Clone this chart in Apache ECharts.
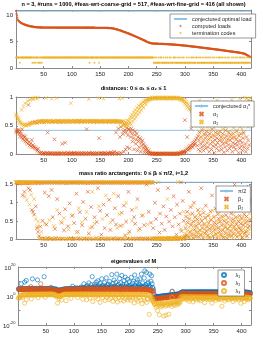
<!DOCTYPE html>
<html><head><meta charset="utf-8">
<script src="https://cdn.jsdelivr.net/npm/echarts@6/dist/echarts.min.js"></script>
<style>html,body{margin:0;padding:0;background:#fff}#c{width:273px;height:345px}</style>
</head><body><div id="c"></div>
<script>
// ---------- data (index 1..416) ----------
const xTicks = [50,100,150,200,250,300,350,400];
const conjLoad = 10.77;
const conjAlpha1 = 0.42;
const halfPi = 1.5708;

const loads = [
10.8,10.2,9.6,9.2,9.0,8.9,8.8,8.7,8.62,8.55,8.49,8.43,8.38,8.33,8.28,8.24,8.2,8.16,8.12,8.09,
8.06,8.03,8.0,7.97,7.94,7.92,7.9,7.88,7.86,7.84,7.82,7.8,7.78,7.76,7.75,7.74,7.73,7.72,7.71,7.7,
7.7,7.69,7.69,7.68,7.68,7.68,7.67,7.67,7.67,7.67,7.66,7.66,7.66,7.66,7.66,7.66,7.66,7.66,7.66,7.66,
7.66,7.66,7.66,7.66,7.66,7.66,7.66,7.66,7.66,7.66,7.65,7.65,7.65,7.65,7.65,7.65,7.65,7.65,7.65,7.65,
7.65,7.65,7.65,7.65,7.65,7.65,7.65,7.65,7.65,7.65,7.65,7.65,7.65,7.65,7.65,7.65,7.65,7.65,7.65,7.65,
7.64,7.64,7.64,7.64,7.64,7.64,7.64,7.64,7.64,7.64,7.64,7.64,7.64,7.64,7.64,7.64,7.64,7.64,7.64,7.64,
7.63,7.63,7.63,7.63,7.63,7.63,7.63,7.63,7.63,7.63,7.63,7.63,7.63,7.63,7.63,7.63,7.63,7.63,7.63,7.63,
7.62,7.62,7.62,7.62,7.62,7.62,7.62,7.62,7.62,7.62,7.61,7.61,7.61,7.61,7.61,7.61,7.61,7.61,7.61,7.61,
7.6,7.6,7.59,7.59,7.58,7.58,7.57,7.56,7.55,7.54,7.53,7.51,7.49,7.47,7.45,7.42,7.39,7.36,7.33,7.3,
7.27,7.24,7.2,7.17,7.13,7.1,7.06,7.02,6.98,6.94,6.9,6.86,6.82,6.78,6.74,6.7,6.66,6.62,6.58,6.54,
6.5,6.46,6.41,6.37,6.32,6.28,6.23,6.19,6.14,6.1,6.05,6.0,5.96,5.91,5.86,5.81,5.77,5.72,5.67,5.62,
5.57,5.52,5.47,5.42,5.37,5.32,5.27,5.22,5.17,5.12,5.07,5.02,4.97,4.92,4.87,4.83,4.79,4.75,4.72,4.69,
4.67,4.66,4.65,4.64,4.63,4.63,4.62,4.62,4.61,4.61,4.6,4.6,4.59,4.59,4.58,4.58,4.57,4.57,4.56,4.56,
4.55,4.55,4.54,4.54,4.53,4.53,4.52,4.52,4.51,4.5,4.49,4.49,4.48,4.48,4.47,4.47,4.46,4.46,4.45,4.44,
4.43,4.42,4.41,4.4,4.39,4.38,4.37,4.36,4.35,4.34,4.33,4.32,4.31,4.3,4.29,4.28,4.27,4.26,4.25,4.24,
4.23,4.22,4.2,4.19,4.18,4.17,4.15,4.14,4.13,4.12,4.1,4.09,4.08,4.07,4.05,4.04,4.03,4.02,4.0,3.99,
3.98,3.96,3.95,3.94,3.92,3.91,3.9,3.88,3.87,3.86,3.84,3.83,3.82,3.8,3.79,3.78,3.76,3.75,3.74,3.72,
3.71,3.7,3.68,3.67,3.66,3.64,3.63,3.62,3.6,3.59,3.58,3.56,3.55,3.53,3.52,3.51,3.49,3.48,3.46,3.45,
3.44,3.42,3.41,3.39,3.38,3.36,3.35,3.33,3.32,3.3,3.29,3.27,3.26,3.24,3.23,3.21,3.2,3.18,3.17,3.15,
3.14,3.12,3.11,3.09,3.08,3.06,3.05,3.03,3.02,3.0,2.99,2.97,2.96,2.94,2.93,2.91,2.9,2.88,2.86,2.84,
2.82,2.8,2.77,2.74,2.71,2.67,2.62,2.56,2.5,2.44,2.38,2.31,2.25,2.18,2.12,2.06];

const termCodesText =
"22222221222222222222"+"22222222212212212221"+"21212212222222222222"+"22222222222222222222"+
"22222222222222222222"+"22222222222222222222"+"22222222221222222221"+"22222221222222222222"+
"22222222222222222222"+"22222222222222222222"+"22222222222222222222"+"22222222222222222222"+
"22221121121112112211"+"12111211211121211112"+"21121112112111211211"+"11211121112121121112"+
"21112112111211121121"+"12112111211211121112"+"21121121112111211211"+"11211211121121112121"+
"1211211121121121";
const termCodes = termCodesText.split('').map(Number);

// distances, in hundredths
const alpha1Pct = [
40,42,38,41,39,43,36,31,40,35,30,44,27,33,24,29,31,22,26,20,
25,18,87,21,15,55,19,14,25,12,16,56,13,11,57,10,8,55,6,9,
4,57,2,58,1,3,57,1,0,2,56,1,0,58,1,2,38,0,1,57,
1,0,2,57,1,0,58,1,26,0,2,57,0,1,1,58,0,2,57,1,
0,1,18,57,0,2,1,20,0,58,1,0,2,57,1,0,1,58,2,0,
57,1,0,2,58,1,0,1,57,2,0,1,58,0,1,57,2,0,1,58,
0,2,57,1,0,44,1,58,0,2,1,57,0,1,58,2,0,1,57,0,
1,58,0,2,57,1,0,28,58,1,0,2,57,1,0,58,1,2,0,57,
1,0,58,2,1,57,0,1,3,58,0,2,57,1,4,58,0,38,2,57,
1,45,0,57,30,2,48,1,58,35,40,4,52,42,8,38,46,12,33,44,
44,10,40,30,45,36,22,42,28,8,34,40,18,25,36,6,30,22,12,28,
26,4,20,15,24,10,18,3,14,8,12,2,9,5,1,6,3,0,2,1,
1,0,1,0,1,0,0,1,0,1,0,0,1,0,1,0,0,1,0,1,
0,1,0,0,1,0,1,0,0,1,0,1,0,0,1,0,1,0,0,1,
0,1,0,1,0,0,1,0,1,2,1,0,3,2,1,4,2,5,3,60,
6,4,8,30,10,7,12,9,15,11,45,14,18,12,20,16,22,18,25,62,
28,15,32,8,24,38,5,18,30,12,42,22,6,35,15,28,10,40,20,33,
12,26,4,36,18,30,8,44,22,14,32,2,25,38,16,10,28,20,35,6,
24,40,14,30,8,22,36,18,3,28,12,42,20,32,6,26,16,38,10,24,
34,14,28,4,20,36,12,30,18,8,26,40,16,22,2,32,10,24,36,14,
20,6,28,38,12,56,18,4,30,58,10,24,55,16,60,58];

const alpha2Pct = [
70,68,66,64,62,60,58,56,55,54,78,53,52,84,51,52,90,50,51,53,
52,94,53,51,96,54,53,98,55,54,97,99,55,56,100,56,57,98,57,100,
57,58,58,58,57,59,58,58,58,57,58,59,58,99,57,58,58,59,57,58,
58,59,57,98,58,57,58,59,58,57,57,58,99,58,59,57,58,59,58,57,
58,59,57,58,58,57,59,58,58,57,57,59,58,58,58,57,58,90,59,58,
58,58,57,59,58,58,57,59,58,58,58,57,59,59,58,58,57,58,59,58,
58,57,58,58,59,57,58,58,58,97,59,58,58,57,58,58,59,57,58,58,
59,58,57,58,58,58,99,57,58,58,57,59,58,58,57,98,58,59,57,58,
58,59,58,57,58,58,58,59,57,58,58,57,59,58,59,58,57,58,58,59,
58,57,59,98,56,58,55,57,99,52,50,58,54,48,56,52,55,60,50,54,
58,62,55,66,52,70,64,58,74,68,62,78,72,66,82,76,70,86,80,74,
84,88,78,90,86,92,82,94,90,95,88,96,93,97,95,98,96,99,97,98,
99,98,100,99,98,100,99,100,98,99,100,99,98,100,99,100,99,98,100,99,
100,99,98,100,99,100,98,99,100,99,98,100,99,100,98,99,100,99,98,100,
99,100,98,99,100,99,98,100,99,98,97,99,96,98,95,97,93,96,90,94,
88,92,85,90,82,88,80,85,78,82,75,80,72,78,70,76,68,74,65,72,
62,85,50,70,40,95,55,30,78,60,45,88,25,68,52,92,35,74,58,48,
82,42,65,28,90,55,38,72,60,20,86,46,66,32,76,54,95,40,62,70,
36,80,50,64,26,88,44,72,58,34,92,48,68,22,78,56,40,84,62,30,
74,52,96,38,66,46,82,28,60,90,42,70,54,86,34,64,98,48,76,58,
44,88,66,36,80,100,54,72,98,62,90,48,96,58,94,99];

// mass ratio arctangents, in hundredths of a radian
const beta1Pct = [
156,155,156,154,155,156,155,153,156,155,154,156,120,155,156,130,155,154,156,155,
155,156,140,155,154,135,156,155,80,155,75,156,67,155,154,90,156,30,155,20,
155,8,156,34,154,2,155,50,156,1,155,128,0,156,40,155,2,156,118,155,
0,156,1,135,155,60,156,0,155,28,156,2,155,110,156,1,155,70,156,0,
155,45,156,1,155,24,156,82,154,0,155,156,35,1,155,98,156,2,155,64,
156,0,155,44,156,1,155,125,156,20,155,2,156,74,155,0,156,38,155,102,
156,1,155,56,156,0,155,130,154,15,156,1,155,88,156,33,155,0,156,60,
155,2,156,47,155,140,156,0,155,78,156,12,155,1,156,95,155,30,156,0,
155,66,156,1,155,108,156,25,155,0,156,52,155,2,156,85,155,40,156,0,
155,118,156,1,155,36,156,72,155,0,156,92,155,10,156,48,155,1,156,130,
155,20,156,0,155,80,156,1,155,60,156,42,155,0,156,110,155,2,156,28,
155,0,156,64,155,1,156,38,155,0,156,150,155,2,156,75,155,0,156,45,
156,1,155,30,2,0,100,1,55,0,2,135,0,1,18,70,0,2,42,0,
1,90,0,25,2,0,62,1,0,140,3,48,0,1,80,2,0,35,1,118,
0,60,2,1,12,95,0,3,40,1,70,0,156,22,2,105,0,50,1,8,
30,62,10,75,45,5,130,55,20,88,38,14,70,3,48,100,26,60,8,36,
18,54,80,6,42,24,66,12,140,50,30,2,72,40,16,58,92,22,34,10,
64,44,4,28,76,52,18,120,36,8,60,46,26,84,14,40,2,68,30,56,
20,48,106,10,38,62,24,4,50,80,32,16,66,44,2,28,58,12,95,36,
22,70,8,46,54,14,34,150,26,60,40,6,78,18,48,30,64,12,42,24,
56,4,38,126,68,16,44,20,62,8,50,30,144,36,108,52];

const beta2Pct = [
157,156,157,155,157,156,157,156,155,157,156,157,156,155,157,156,117,157,156,107,
157,155,156,157,95,156,157,122,156,155,157,156,110,157,156,55,157,156,35,48,
157,2,156,1,157,20,156,0,157,1,156,42,157,0,156,3,157,1,156,52,
157,0,156,2,157,1,156,36,157,0,156,1,157,80,156,2,157,0,156,48,
157,1,156,0,157,58,156,2,157,1,156,0,157,26,156,1,157,2,156,0,
157,66,156,1,157,0,156,18,157,2,156,85,157,0,156,1,157,46,156,2,
157,0,156,1,157,75,156,2,157,0,156,30,157,1,156,130,157,0,156,42,
157,1,156,2,157,0,156,90,157,1,156,0,157,55,156,2,157,1,156,120,
157,0,156,1,157,2,156,45,157,0,156,1,157,125,156,0,157,2,156,30,
157,1,156,68,157,0,156,2,157,38,156,1,157,0,156,100,157,2,156,15,
157,0,156,1,157,50,156,2,157,0,156,1,157,86,156,0,157,24,156,1,
157,2,156,0,157,66,156,1,157,0,156,2,157,40,156,1,157,0,156,156,
157,0,156,1,2,0,1,3,0,2,1,0,157,1,0,2,1,0,3,1,
0,2,1,0,3,1,0,2,110,1,0,4,2,0,1,3,0,2,1,0,
2,1,0,5,3,1,0,157,2,4,1,0,28,3,2,6,1,75,4,2,
14,40,6,22,58,10,32,4,68,18,44,8,26,92,12,36,2,50,20,64,
8,30,46,16,72,4,24,56,12,38,82,20,6,42,28,60,14,34,2,48,
24,10,66,36,4,54,18,28,78,8,40,22,62,12,32,50,6,44,16,70,
30,2,48,14,58,26,8,40,64,18,4,36,52,10,28,86,20,46,6,34,
12,56,24,40,2,68,32,16,50,10,44,26,60,8,36,20,54,14,30,4,
46,18,62,28,10,52,34,6,48,130,22,40,14,70,26,56];

// eigenvalues of M, as log10
const lambda1Log = [
4.8,5.2,4.5,5.0,4.6,8.4,4.9,5.3,4.7,5.1,4.6,9.6,5.0,4.8,10.7,5.2,4.5,4.9,5.4,4.7,
5.0,4.6,5.3,4.8,5.1,11.8,4.7,5.2,4.9,5.0,4.6,5.0,5.3,4.8,11.1,4.7,5.1,4.9,5.2,4.6,
5.0,4.8,5.3,4.7,5.1,4.9,13.3,5.0,4.6,5.2,4.8,4.7,5.1,4.9,4.5,5.0,4.8,5.2,6.0,4.7,
4.9,5.1,4.6,5.0,4.8,4.5,4.7,4.9,4.4,4.2,3.9,4.1,3.8,4.0,4.2,3.9,4.3,4.1,4.4,4.6,
4.5,4.8,4.6,4.9,4.7,5.0,4.6,4.8,5.1,4.7,4.9,5.2,4.8,5.0,4.6,5.3,4.9,6.7,5.1,4.8,
5.0,5.4,4.9,5.2,5.6,5.0,4.8,5.3,5.1,4.9,5.5,5.2,6.2,5.0,5.4,5.8,5.1,8.4,5.3,5.6,
5.2,6.5,5.4,7.2,5.0,5.8,9.0,5.3,6.0,5.6,7.8,5.2,13.3,5.5,6.4,5.1,8.0,5.7,6.8,9.5,
5.4,6.2,10.5,5.6,7.0,5.2,8.8,5.8,6.6,11.8,5.5,7.4,5.9,6.0,9.2,5.3,6.8,12.5,5.7,7.6,
5.6,8.2,6.1,10.0,5.4,7.0,5.9,14.7,6.3,8.6,5.5,11.0,6.7,5.8,9.4,6.0,15.1,7.2,5.6,8.0,
6.2,12.0,5.8,9.0,6.6,14.2,5.7,7.8,6.4,10.6,5.9,13.0,6.8,8.4,5.6,11.5,7.0,6.2,9.8,5.8,
7.4,6.0,12.8,5.9,8.8,6.5,10.2,5.7,14.5,7.2,6.3,9.4,5.8,11.2,6.7,8.0,6.0,11.8,7.6,6.4,
15.1,6.1,9.0,5.9,6.8,12.4,17.3,6.3,7.8,16.2,6.0,8.6,9.6,5.8,7.0,15.1,6.2,10.2,14.0,8.4,
6.0,5.0,3.5,1.0,-0.6,-0.8,-0.7,-0.5,-0.6,-0.4,-0.5,-0.3,-0.4,-0.2,-0.3,-0.1,-0.2,0.0,-0.1,0.1,
0.0,0.2,0.1,0.3,0.2,0.4,0.3,0.5,0.4,0.6,0.5,0.7,0.6,0.8,0.7,3.3,0.9,0.8,1.0,0.9,
1.1,1.0,1.2,1.1,1.3,1.2,1.4,1.3,1.5,1.4,2.3,2.5,2.6,2.7,3.0,2.6,2.8,2.7,2.6,2.8,
2.7,2.6,2.8,2.7,2.6,2.8,2.7,2.9,2.6,2.8,2.7,2.6,2.9,2.7,2.8,2.6,2.7,2.9,2.8,2.7,
2.8,2.6,2.7,2.9,2.8,2.6,2.7,2.8,3.0,2.7,2.6,2.8,2.9,2.7,2.8,2.6,2.7,2.9,2.8,2.7,
2.6,2.8,2.7,2.9,2.8,2.7,2.6,2.8,2.9,2.7,2.8,2.6,2.7,2.9,2.8,2.7,2.6,2.8,2.7,2.9,
2.8,2.7,2.6,2.8,2.9,2.7,2.8,2.6,2.7,2.9,2.8,2.7,2.6,2.8,2.7,2.9,2.8,2.6,2.7,2.8,
2.9,2.7,2.8,2.6,2.7,2.9,2.8,2.7,2.6,2.8,2.7,2.9,2.8,2.6,2.7,2.8,2.9,2.7,2.6,2.8,
2.7,2.8,2.6,2.9,2.7,2.8,2.6,2.5,2.7,2.4,2.6,2.5,2.3,2.4,2.2,2.3];

const lambda2Log = [
4.5,4.9,4.3,4.7,5.1,4.4,4.8,4.2,4.6,5.0,4.3,4.7,4.9,4.4,4.6,5.0,4.2,4.8,4.5,4.9,
4.4,4.7,6.5,4.3,4.8,4.6,4.9,4.2,4.5,4.7,4.4,4.8,4.6,4.3,4.9,4.5,4.7,4.4,4.6,4.8,
8.4,4.5,4.7,4.3,4.6,4.8,4.4,4.7,4.5,4.9,4.3,4.6,4.8,4.4,4.7,4.5,4.6,4.8,4.4,4.7,
4.5,4.3,4.6,4.4,4.2,4.0,4.3,3.9,3.6,3.4,3.2,3.5,3.1,3.4,3.6,3.3,3.8,3.7,4.0,4.2,
4.3,4.5,4.2,4.6,4.4,4.7,4.3,4.5,4.6,4.4,4.7,4.5,4.3,4.6,4.8,4.4,4.6,4.5,4.7,4.3,
4.6,4.8,4.4,4.7,4.5,4.9,4.6,4.3,4.7,4.5,4.8,4.4,4.6,5.6,4.5,4.7,4.4,4.8,4.6,4.5,
4.7,4.4,4.9,4.6,4.5,5.8,4.8,4.3,4.7,4.5,4.9,4.6,4.4,4.8,4.5,4.7,6.2,4.6,4.4,4.8,
4.5,4.7,4.9,4.4,4.6,4.8,4.5,4.3,4.7,4.6,4.9,4.4,4.8,4.5,4.7,6.5,4.6,4.4,4.8,4.5,
4.7,4.9,4.4,4.6,4.8,4.5,4.3,4.7,4.6,4.9,4.4,4.8,4.5,6.8,4.7,4.6,4.4,4.9,4.5,4.7,
4.6,4.8,4.4,4.7,4.5,4.9,4.6,4.3,4.8,4.5,6.2,4.7,4.4,4.6,4.9,4.5,4.7,4.4,4.8,4.6,
4.5,4.7,4.9,4.4,4.6,4.8,4.5,4.7,4.3,4.6,4.9,4.5,4.7,4.4,4.8,4.6,4.5,4.7,4.4,4.6,
4.8,4.5,4.7,4.3,4.6,4.4,4.8,4.5,4.2,4.6,4.3,4.1,4.4,4.0,4.2,3.9,4.1,3.8,3.6,3.9,
3.4,2.6,1.2,-0.8,-1.9,-2.1,-1.8,-2.0,-1.7,-1.9,-1.6,-1.8,-1.5,-1.7,-1.4,-1.6,-1.3,-1.5,-1.2,-1.4,
-1.1,-1.3,-1.0,-1.2,-0.9,-1.1,-0.8,-1.0,-0.7,-0.9,-0.6,-0.8,-0.5,-0.7,-0.4,3.0,-0.3,-0.5,-0.2,-0.4,
-0.1,-0.3,0.0,-0.2,0.1,-0.1,0.2,0.0,0.3,0.1,1.5,1.7,1.8,1.6,2.2,1.7,1.9,1.6,1.8,1.7,
1.8,1.6,1.9,1.7,1.5,1.8,1.6,1.9,1.7,1.8,1.6,1.5,1.9,1.7,1.8,1.6,1.7,1.9,1.5,1.8,
1.7,1.9,1.6,1.8,1.5,1.7,1.9,1.6,1.8,1.7,1.5,1.9,1.6,1.8,1.7,1.9,1.6,1.5,1.8,1.7,
1.9,1.6,1.8,1.7,1.5,1.9,1.7,1.6,1.8,1.9,1.5,1.7,1.8,1.6,1.9,1.7,1.5,1.8,1.6,1.9,
1.7,1.8,1.6,1.9,1.5,1.7,1.8,1.6,1.9,1.7,1.5,1.8,1.6,1.9,1.7,1.8,1.5,1.6,1.9,1.7,
1.8,1.6,1.9,1.7,1.5,1.8,1.6,1.9,1.7,1.8,1.6,1.5,1.9,1.7,1.8,1.6,1.9,1.7,1.5,1.8,
1.6,1.8,1.7,1.5,1.9,1.6,1.7,1.4,1.6,1.3,1.5,1.2,1.4,1.1,1.3,1.2];

const lambda3Log = [
-1.6,-1.2,-0.8,0.2,-0.5,0.6,0.3,-1.0,0.8,0.5,1.0,-4.9,0.7,1.1,-2.5,0.9,1.2,0.6,1.0,0.8,
1.1,0.7,1.3,-2.0,0.9,1.2,0.6,1.0,1.4,0.8,1.1,0.5,1.3,0.9,1.2,-1.2,1.0,1.4,0.7,1.1,
1.3,0.8,1.0,1.4,0.6,1.2,0.9,1.3,-0.8,1.1,1.4,0.7,1.0,1.3,0.9,1.2,1.5,0.8,1.1,1.4,
1.0,1.3,0.8,1.2,0.6,0.9,0.4,0.7,-0.5,0.2,-4.9,-0.2,0.1,-1.8,-0.4,0.0,0.3,-2.8,0.5,0.8,
1.0,0.7,1.2,0.9,1.3,-3.2,1.1,0.8,1.4,1.0,1.2,0.7,1.3,1.0,-1.6,1.2,0.9,1.4,1.1,0.8,
1.3,1.0,1.2,0.8,1.4,1.1,-1.0,1.3,0.9,1.2,1.0,1.4,0.7,1.1,1.3,-2.2,1.0,1.2,0.8,1.4,
1.1,1.3,-2.6,0.9,1.2,1.0,1.4,0.7,-1.4,1.1,1.3,0.9,1.2,-3.8,1.0,1.4,0.8,1.1,-0.6,1.3,
1.0,1.2,-2.0,0.9,1.3,1.1,-4.4,1.4,0.8,1.0,1.2,-1.2,1.1,1.3,0.7,-3.0,1.0,1.2,-0.8,1.4,
0.9,1.1,-2.4,1.3,1.0,-1.5,1.2,0.8,1.4,-3.6,1.0,1.1,-0.6,1.3,-2.0,0.9,1.2,-4.1,1.0,1.3,
-1.2,1.1,0.8,-2.8,1.2,1.0,-0.4,1.3,-3.4,0.9,1.1,-1.8,1.2,1.0,-0.9,1.4,-2.6,0.8,1.1,-1.4,
1.2,-3.0,1.0,0.7,-1.1,1.3,0.9,-4.8,1.1,-0.6,1.2,-2.2,1.0,0.8,-3.6,1.3,-1.0,0.9,1.1,-2.8,
1.0,-5.2,0.8,1.2,-1.6,0.9,-3.0,1.1,0.6,-4.4,0.8,-2.0,1.0,0.4,-12.7,0.2,-1.4,-0.6,-3.2,-2.4,
-1.8,-3.5,-4.0,-5.2,-6.0,-5.4,-7.8,-5.0,-6.6,-10.0,-5.6,-4.8,-13.0,-6.2,-5.0,-7.4,-5.8,-4.6,-6.8,-5.2,
-13.8,-5.6,-4.4,-7.0,-13.2,-5.8,-4.6,-6.4,-5.0,-12.6,-4.2,-6.0,-5.2,-4.8,-7.2,-1.0,-4.4,-5.6,-3.8,-6.4,
-4.2,-5.0,-3.6,-6.2,-4.0,-4.8,-3.4,-5.4,-3.8,-4.4,-1.2,-0.6,-2.4,-0.4,-1.6,-0.8,-2.0,-0.2,-1.4,-0.6,
-1.0,-2.6,-0.4,-1.8,-0.8,-3.6,-0.2,-1.2,-2.2,-0.6,-1.6,-0.4,-4.0,-1.0,-0.8,-2.0,-0.3,-1.4,-2.8,-0.7,
-1.2,-0.5,-1.8,-2.4,-0.6,-1.0,-3.2,-0.4,-1.6,-0.9,-2.0,-0.3,-1.3,-4.6,-0.8,-1.5,-0.5,-2.2,-1.1,-0.7,
-1.6,-0.4,-2.6,-1.0,-0.6,-1.8,-4.9,-0.5,-1.2,-2.0,-0.8,-1.4,-0.3,-3.0,-1.1,-0.7,-1.9,-0.4,-1.3,-2.4,
-0.9,-1.5,-0.5,-2.2,-7.1,-0.8,-1.2,-0.4,-1.7,-3.4,-0.7,-1.1,-2.0,-0.5,-1.4,-0.9,-2.6,-0.3,-1.6,-1.0,
-0.6,-2.0,-1.2,-0.4,-3.8,-0.8,-1.5,-0.5,-2.4,-1.0,-0.7,-1.8,-0.4,-1.3,-2.8,-0.9,-0.5,-1.6,-5.0,-1.1,
-0.7,-1.9,-0.5,-1.4,-3.8,-0.8,-1.2,-2.2,-0.6,-1.6,-1.0,-2.6,-0.9,-1.8,-1.3,-1.5];

// ---------- chart ----------
const FONT = '"Liberation Sans", Arial, Helvetica, sans-serif';
const AX = '#8a8a8a', TXT = '#262626';
const BLUE = '#0072BD', RED = '#D95319', YEL = '#EDB120', LBLUE = '#8cc4ea';
const XMIN = 1, XMAX = 417;
const XMARK = 'path://M0,0L10,10M10,0L0,10';

const toPts = (vals, k) => vals.map((v, i) => [i + 1, k ? v * k : v]);

const gridSpec = [
  {top: 10, height: 58}, {top: 97, height: 57}, {top: 182, height: 57}, {top: 267, height: 58}
];
const yConf = [
  {min: 0, max: 11, ticks: [0, 5, 10], fmt: v => String(v)},
  {min: 0, max: 1.01, ticks: [0, 0.5, 1], fmt: v => String(v)},
  {min: 0, max: halfPi, ticks: [0, 0.5, 1, 1.5], fmt: v => String(v)},
  {min: -20, max: 20, ticks: [-20, -10, 0, 10, 20], labels: [-20, 0, 20],
   fmt: v => '{b|10}{s|' + v + '}'}
];

const grid = gridSpec.map(g => ({left: 16, width: 235, top: g.top, height: g.height}));
const xAxis = [], yAxis = [];
gridSpec.forEach((g, gi) => {
  const line = {show: true, onZero: false, lineStyle: {color: AX, width: 1}};
  const tick = {show: true, inside: true, length: 2, lineStyle: {color: AX, width: 1}};
  xAxis.push({gridIndex: gi, type: 'value', min: XMIN, max: XMAX, position: 'bottom',
    axisLine: line, axisTick: Object.assign({customValues: xTicks}, tick),
    axisLabel: {customValues: xTicks, fontSize: 6, color: TXT, margin: 3, fontFamily: FONT},
    splitLine: {show: false}});
  xAxis.push({gridIndex: gi, type: 'value', min: XMIN, max: XMAX, position: 'top',
    axisLine: line, axisTick: Object.assign({customValues: xTicks}, tick),
    axisLabel: {show: false}, splitLine: {show: false}});
  const yc = yConf[gi];
  yAxis.push({gridIndex: gi, type: 'value', min: yc.min, max: yc.max, position: 'left',
    axisLine: line, axisTick: Object.assign({customValues: yc.ticks}, tick),
    axisLabel: {customValues: yc.labels || yc.ticks, fontSize: 6, color: TXT, margin: 3,
      fontFamily: FONT, formatter: yc.fmt,
      rich: {b: {fontSize: 6, color: TXT, fontFamily: FONT, lineHeight: 9, verticalAlign: 'bottom'},
             s: {fontSize: 4, color: TXT, fontFamily: FONT, lineHeight: 9, verticalAlign: 'top'}}},
    splitLine: {show: false}});
  yAxis.push({gridIndex: gi, type: 'value', min: yc.min, max: yc.max, position: 'right',
    axisLine: line, axisTick: Object.assign({customValues: yc.ticks}, tick),
    axisLabel: {show: false}, splitLine: {show: false}});
});

const ax = g => ({xAxisIndex: 2 * g, yAxisIndex: 2 * g});
const hLine = (name, g, y) => Object.assign({name, type: 'line', data: [[XMIN, y], [XMAX, y]],
  symbol: 'none', lineStyle: {color: LBLUE, width: 1}, itemStyle: {color: LBLUE}, z: 1}, ax(g));
const xScatter = (name, g, data, color) => Object.assign({name, type: 'scatter', data,
  symbol: XMARK, symbolSize: 3.6,
  itemStyle: {color: 'rgba(0,0,0,0)', borderColor: color, borderWidth: 0.8}}, ax(g));
const oScatter = (name, g, data, color) => Object.assign({name, type: 'scatter', data,
  symbol: 'circle', symbolSize: 4.2,
  itemStyle: {color: 'rgba(0,0,0,0)', borderColor: color, borderWidth: 0.8}}, ax(g));

const series = [
  hLine('conjectured optimal load', 0, conjLoad),
  Object.assign({name: 'computed loads', type: 'scatter', data: toPts(loads), symbol: 'circle',
    symbolSize: 2.3, itemStyle: {color: RED}}, ax(0)),
  Object.assign({name: 'termination codes', type: 'scatter', data: toPts(termCodes), symbol: 'circle',
    symbolSize: 2, itemStyle: {color: YEL}}, ax(0)),

  hLine('conjectured α₁*', 1, conjAlpha1),
  xScatter('α₁', 1, toPts(alpha1Pct, 0.01), RED),
  xScatter('α₂', 1, toPts(alpha2Pct, 0.01), YEL),

  hLine('π/2', 2, halfPi),
  xScatter('β₁', 2, toPts(beta1Pct, 0.01), RED),
  xScatter('β₂', 2, toPts(beta2Pct, 0.01), YEL),

  oScatter('λ₁', 3, toPts(lambda1Log), BLUE),
  oScatter('λ₂', 3, toPts(lambda2Log), RED),
  oScatter('λ₃', 3, toPts(lambda3Log), YEL)
];

const legendBase = {orient: 'vertical', selectedMode: false, itemGap: 1, itemWidth: 13,
  padding: [2, 4, 2, 3], backgroundColor: '#fff', borderColor: '#555', borderWidth: 0.6,
  textStyle: {fontSize: 5.5, color: TXT, fontFamily: FONT, lineHeight: 6}};
const legend = [
  Object.assign({}, legendBase, {left: 170, top: 14, itemHeight: 2,
    data: ['conjectured optimal load', 'computed loads', 'termination codes']}),
  Object.assign({}, legendBase, {left: 191, top: 101, itemHeight: 4, itemGap: 2,
    data: ['conjectured α₁*', 'α₁', 'α₂']}),
  Object.assign({}, legendBase, {left: 216, top: 186, itemHeight: 4, itemGap: 2,
    data: ['π/2', 'β₁', 'β₂']}),
  Object.assign({}, legendBase, {left: 218, top: 270, itemHeight: 4, itemGap: 2,
    data: ['λ₁', 'λ₂', 'λ₃']})
];

const titleStyle = {fontSize: 5.6, fontWeight: 'bold', color: '#000', fontFamily: FONT};
const title = [
  {text: 'n = 3, #runs = 1000, #feas-wrt-coarse-grid = 517, #feas-wrt-fine-grid = 416 (all shown)', top: 1.5},
  {text: 'distances: 0 ≤ α₁ ≤ α₂ ≤ 1', top: 85},
  {text: 'mass ratio arctangents: 0 ≤ βᵢ ≤ π/2, i=1,2', top: 170},
  {text: 'eigenvalues of M', top: 258}
].map(t => Object.assign({left: 133.5, textAlign: 'center', padding: 0, textStyle: titleStyle}, t));

const chart = echarts.init(document.getElementById('c'), null, {renderer: 'canvas'});
chart.setOption({animation: false, backgroundColor: '#fff', title, legend, grid, xAxis, yAxis, series});
</script></body></html>
